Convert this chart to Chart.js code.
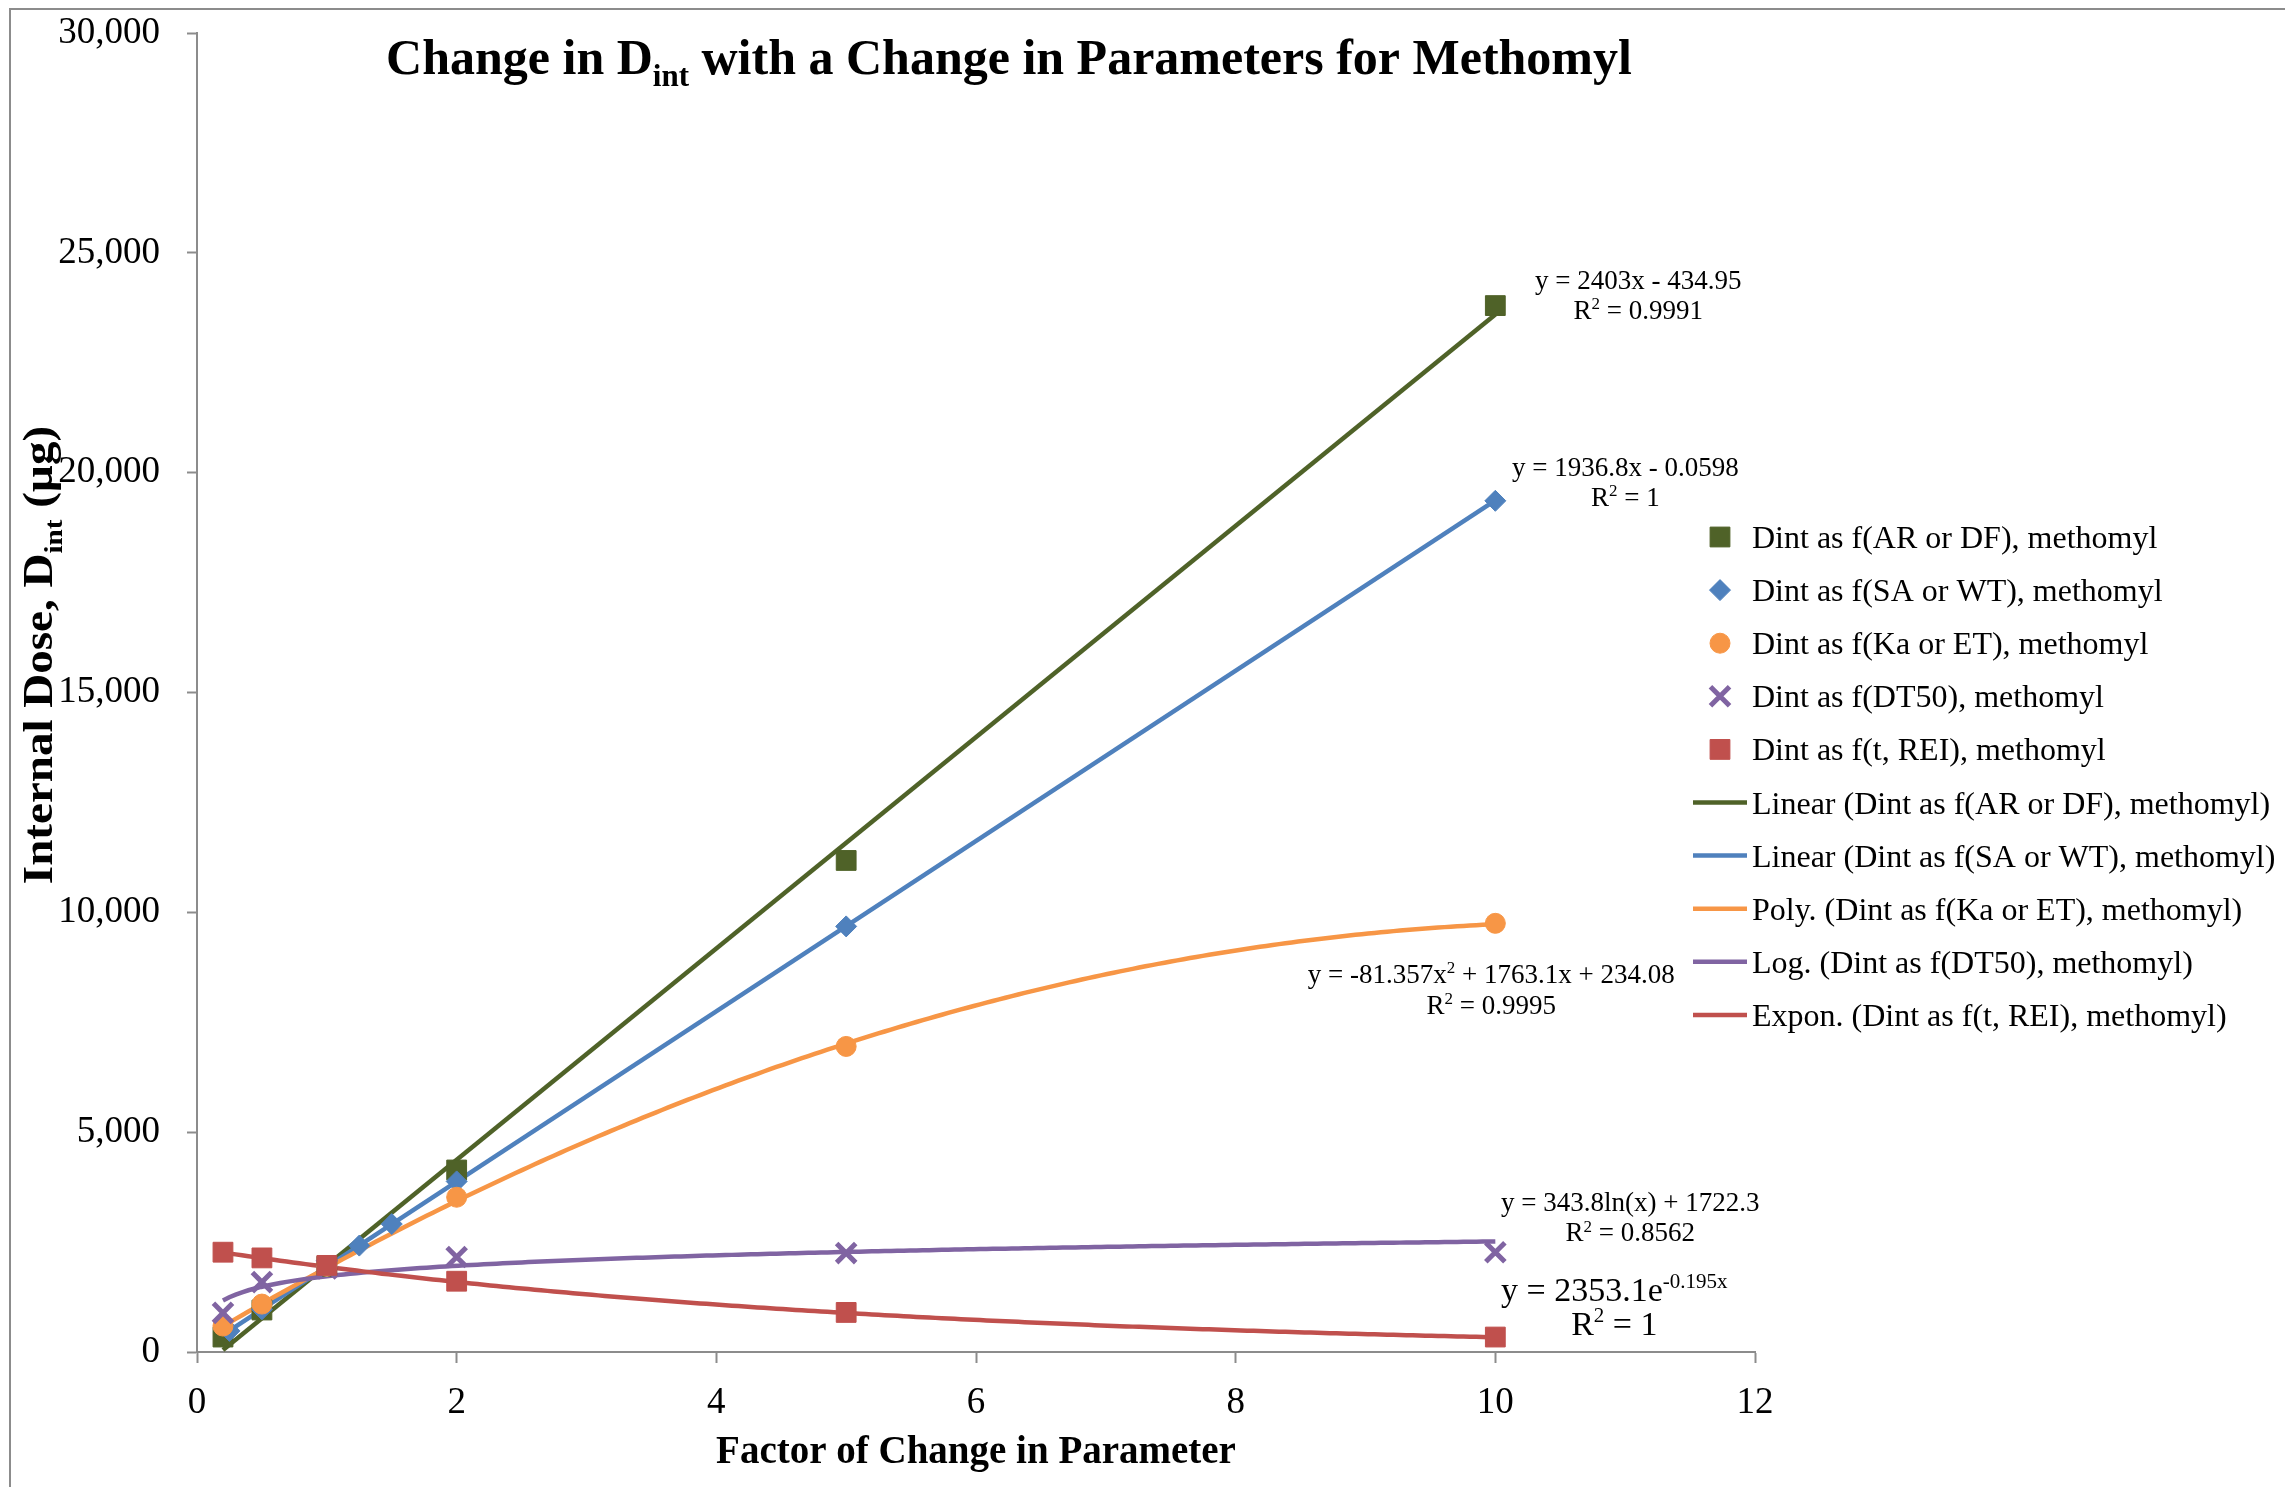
<!DOCTYPE html>
<html>
<head>
<meta charset="utf-8">
<script src="https://cdn.jsdelivr.net/npm/chart.js@4.4.0/dist/chart.umd.min.js"></script>
<style>
  html, body { margin: 0; padding: 0; background: #fff; }
  #wrap { width: 2285px; height: 1487px; }
</style>
</head>
<body>
<div id="wrap"><canvas id="doseChart" width="2285" height="1487"></canvas></div>
<script>
// measured points (factor of change -> internal dose, ug)
const arFactor = [0.2, 0.5, 1, 2, 5, 10];
const arDose = [340, 955, 1950, 4140, 11180, 23800];
const saFactor = [0.25, 0.5, 1, 1.25, 1.5, 2, 5, 10];
const saDose = [480, 970, 1940, 2420, 2910, 3880, 9680, 19360];
const kaFactor = [0.2, 0.5, 1, 2, 5, 10];
const kaDose = [590, 1090, 1950, 3520, 6950, 9750];
const dtFactor = [0.2, 0.5, 1, 2, 5, 10];
const dtDose = [890, 1590, 1900, 2160, 2250, 2270];
const reiFactor = [0.2, 0.5, 1, 2, 5, 10];
const reiDose = [2270, 2140, 1970, 1610, 900, 340];

// trendline coefficients as printed on the chart
const arTrend = [2403, -434.95];           // linear: a*x + b
const saTrend = [1936.8, -0.0598];         // linear
const kaTrend = [-81.357, 1763.1, 234.08]; // poly: a*x^2 + b*x + c
const dtTrend = [343.8, 1722.3];           // log: a*ln(x) + b
const reiTrend = [2353.1, -0.195];         // expon: a*e^(b*x)

const xTicks = [0, 2, 4, 6, 8, 10, 12];
const yTicks = [0, 5000, 10000, 15000, 20000, 25000, 30000];

const seriesNames = [
  'Dint as f(AR or DF), methomyl',
  'Dint as f(SA or WT), methomyl',
  'Dint as f(Ka or ET), methomyl',
  'Dint as f(DT50), methomyl',
  'Dint as f(t, REI), methomyl'
];
const trendNames = [
  'Linear (Dint as f(AR or DF), methomyl)',
  'Linear (Dint as f(SA or WT), methomyl)',
  'Poly. (Dint as f(Ka or ET), methomyl)',
  'Log. (Dint as f(DT50), methomyl)',
  'Expon. (Dint as f(t, REI), methomyl)'
];

const colors = ['#4F6228', '#4F81BD', '#F79646', '#8064A2', '#C0504D'];
const pointStyles = ['rect', 'rectRot', 'circle', 'crossRot', 'rect'];
const pointSizes = [14, 10.5, 10, 13.5, 14];

const FONT = '"Liberation Serif", "Times New Roman", serif';

function pairs(xs, ys) {
  return xs.map((x, i) => ({ x: x, y: ys[i] }));
}

function trendPoints(xs, fn, curved) {
  const lo = Math.min(...xs), hi = Math.max(...xs);
  if (!curved) return [{ x: lo, y: fn(lo) }, { x: hi, y: fn(hi) }];
  const pts = [];
  for (let i = 0; i <= 200; i++) {
    const x = lo + (hi - lo) * i / 200;
    pts.push({ x: x, y: fn(x) });
  }
  return pts;
}

const trendFns = [
  [arFactor, x => arTrend[0] * x + arTrend[1], false],
  [saFactor, x => saTrend[0] * x + saTrend[1], false],
  [kaFactor, x => kaTrend[0] * x * x + kaTrend[1] * x + kaTrend[2], true],
  [dtFactor, x => dtTrend[0] * Math.log(x) + dtTrend[1], true],
  [reiFactor, x => reiTrend[0] * Math.exp(reiTrend[1] * x), true]
];

const pointData = [
  pairs(arFactor, arDose),
  pairs(saFactor, saDose),
  pairs(kaFactor, kaDose),
  pairs(dtFactor, dtDose),
  pairs(reiFactor, reiDose)
];

const datasets = [];
pointData.forEach((d, i) => {
  const cross = pointStyles[i] === 'crossRot';
  datasets.push({
    label: seriesNames[i],
    data: d,
    showLine: false,
    pointStyle: pointStyles[i],
    pointRadius: pointSizes[i],
    pointHoverRadius: pointSizes[i],
    backgroundColor: colors[i],
    borderColor: colors[i],
    pointBorderWidth: cross ? 5 : 1,
    order: 4 - i
  });
});
trendFns.forEach((t, i) => {
  datasets.push({
    label: trendNames[i],
    data: trendPoints(t[0], t[1], t[2]),
    showLine: true,
    pointRadius: 0,
    borderColor: colors[i],
    backgroundColor: colors[i],
    borderWidth: 4.5,
    tension: 0,
    order: 10 + (4 - i)
  });
});

// trendline equation labels, offsets from each series' last point (px)
const eqLabels = [
  { s: 0, size: 27, lines: [[['y = 2403x - 434.95', '']], [['R', ''], ['2', 'sup'], [' = 0.9991', '']]], dx: 143, dy: [-26, 4] },
  { s: 1, size: 27, lines: [[['y = 1936.8x - 0.0598', '']], [['R', ''], ['2', 'sup'], [' = 1', '']]], dx: 130, dy: [-34, -4] },
  { s: 2, size: 27, lines: [[['y = -81.357x', ''], ['2', 'sup'], [' + 1763.1x + 234.08', '']], [['R', ''], ['2', 'sup'], [' = 0.9995', '']]], dx: -4, dy: [50, 81] },
  { s: 3, size: 27, lines: [[['y = 343.8ln(x) + 1722.3', '']], [['R', ''], ['2', 'sup'], [' = 0.8562', '']]], dx: 135, dy: [-50, -20] },
  { s: 4, size: 34, lines: [[['y = 2353.1e', ''], ['-0.195x', 'sup']], [['R', ''], ['2', 'sup'], [' = 1', '']]], dx: 119, dy: [-48, -14] }
];

function drawRich(ctx, parts, x, y, size, bold, align) {
  const b = bold ? 'bold ' : '';
  const small = Math.round(size * 0.62);
  let w = 0;
  parts.forEach(p => {
    ctx.font = b + (p[1] ? small : size) + 'px ' + FONT;
    w += ctx.measureText(p[0]).width;
  });
  let cx = align === 'center' ? x - w / 2 : (align === 'right' ? x - w : x);
  parts.forEach(p => {
    ctx.font = b + (p[1] ? small : size) + 'px ' + FONT;
    let dy = 0;
    if (p[1] === 'sub') dy = size * 0.24;
    if (p[1] === 'sup') dy = -size * 0.36;
    ctx.fillText(p[0], cx, y + dy);
    cx += ctx.measureText(p[0]).width;
  });
}

const decorations = {
  id: 'decorations',
  afterDraw(chart) {
    const ctx = chart.ctx;
    const xs = chart.scales.x, ys = chart.scales.y;
    ctx.save();

    // outer frame (top and left edges)
    ctx.strokeStyle = '#8c8c8c';
    ctx.lineWidth = 2;
    ctx.beginPath();
    ctx.moveTo(10, 1487);
    ctx.lineTo(10, 9);
    ctx.lineTo(2285, 9);
    ctx.stroke();

    ctx.fillStyle = '#000';
    ctx.textBaseline = 'alphabetic';

    // title
    drawRich(ctx, [['Change in D', ''], ['int', 'sub'], [' with a Change in Parameters for Methomyl', '']],
      1009, 74, 50, true, 'center');

    // x axis title
    drawRich(ctx, [['Factor of Change in Parameter', '']], 976, 1463, 39, true, 'center');

    // y axis title
    ctx.save();
    ctx.translate(52, 655);
    ctx.rotate(-Math.PI / 2);
    ctx.scale(1.12, 1);
    drawRich(ctx, [['Internal Dose, D', ''], ['int', 'sub'], [' (\u00b5g)', '']], 0, 0, 42, true, 'center');
    ctx.restore();

    // equation labels
    eqLabels.forEach(l => {
      const d = pointData[l.s];
      const last = d[d.length - 1];
      const px = xs.getPixelForValue(last.x) + l.dx;
      const py = ys.getPixelForValue(last.y);
      l.lines.forEach((parts, k) => {
        drawRich(ctx, parts, px, py + l.dy[k] + l.size * 0.34, l.size, false, 'center');
      });
    });

    // legend
    const rowY0 = 537, rowGap = 53.1;
    chart.data.datasets.forEach((ds, i) => {
      const cy = rowY0 + rowGap * i;
      ctx.fillStyle = ds.backgroundColor;
      ctx.strokeStyle = ds.borderColor;
      if (ds.showLine) {
        ctx.lineWidth = ds.borderWidth;
        ctx.beginPath();
        ctx.moveTo(1693, cy);
        ctx.lineTo(1747, cy);
        ctx.stroke();
      } else {
        ctx.lineWidth = ds.pointBorderWidth;
        Chart.helpers.drawPoint(ctx, { pointStyle: ds.pointStyle, radius: ds.pointRadius, rotation: 0, borderWidth: ds.pointBorderWidth }, 1720, cy);
      }
      ctx.fillStyle = '#000';
      drawRich(ctx, [[ds.label, '']], 1752, cy + 11, 32, false, 'left');
    });

    ctx.restore();
  }
};

const ctx = document.getElementById('doseChart').getContext('2d');
new Chart(ctx, {
  type: 'scatter',
  data: { datasets: datasets },
  options: {
    responsive: false,
    devicePixelRatio: 1,
    animation: false,
    layout: { padding: { top: 33, right: 530, bottom: 0, left: 0 } },
    plugins: {
      legend: { display: false },
      title: { display: false },
      tooltip: { enabled: false }
    },
    scales: {
      x: {
        type: 'linear',
        min: 0,
        max: 12,
        afterFit(scale) {
          scale.height = 135;
          scale.paddingLeft = 0;
          scale.paddingRight = 0;
        },
        afterBuildTicks(scale) { scale.ticks = xTicks.map(v => ({ value: v })); },
        ticks: {
          color: '#000',
          font: { family: FONT, size: 37 },
          padding: 18,
          maxRotation: 0
        },
        grid: { drawOnChartArea: false, drawTicks: true, tickLength: 11, tickColor: '#8c8c8c', tickWidth: 2 },
        border: { color: '#8c8c8c', width: 2 }
      },
      y: {
        min: 0,
        max: 30000,
        afterFit(scale) {
          scale.width = 197;
          scale.paddingTop = 0;
          scale.paddingBottom = 0;
        },
        afterBuildTicks(scale) { scale.ticks = yTicks.map(v => ({ value: v })); },
        ticks: {
          color: '#000',
          font: { family: FONT, size: 37 },
          padding: 27,
          callback: v => v.toLocaleString('en-US')
        },
        grid: { drawOnChartArea: false, drawTicks: true, tickLength: 10, tickColor: '#8c8c8c', tickWidth: 2 },
        border: { color: '#8c8c8c', width: 2 }
      }
    }
  },
  plugins: [decorations]
});
</script>
</body>
</html>
